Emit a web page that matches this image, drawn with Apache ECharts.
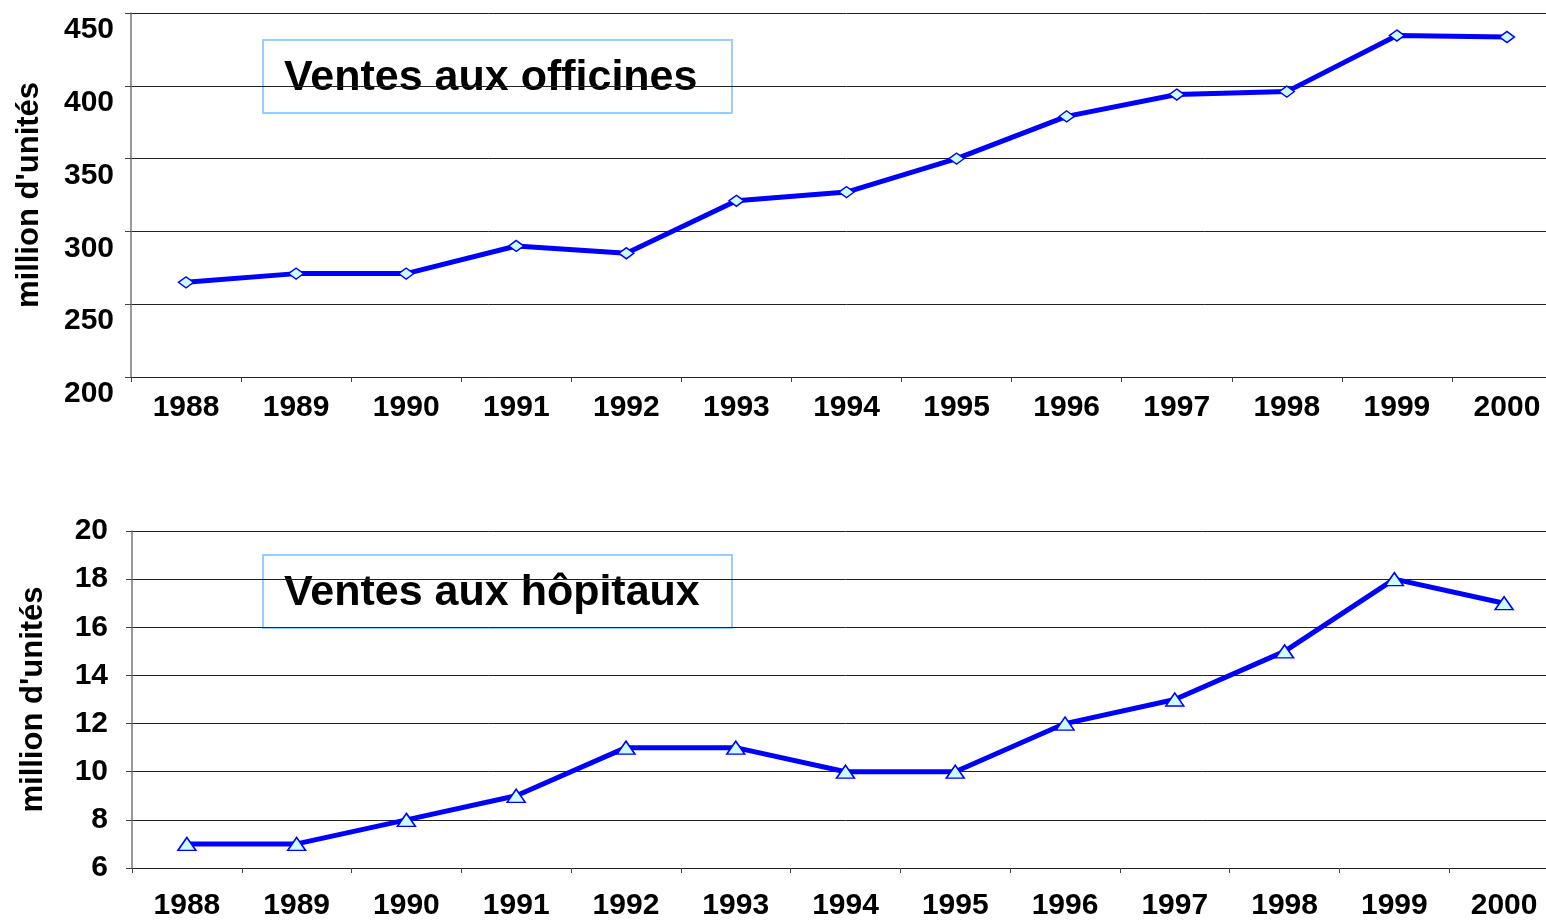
<!DOCTYPE html>
<html>
<head>
<meta charset="utf-8">
<script src="https://cdn.jsdelivr.net/npm/echarts@6/dist/echarts.min.js"></script>
<style>
  html, body { margin: 0; padding: 0; background: #fff; overflow: hidden; }
  #chart { width: 1562px; height: 922px; }
</style>
</head>
<body>
<div id="chart"></div>
<script>
var years = ['1988', '1989', '1990', '1991', '1992', '1993', '1994', '1995', '1996', '1997', '1998', '1999', '2000'];
// ventes aux officines (million d'unités)
var officines = [265, 271, 271, 290, 285, 321, 327, 350, 379, 394, 396, 434.5, 433.5];
// ventes aux hôpitaux (million d'unités)
var hopitaux = [7, 7, 8, 9, 11, 11, 10, 10, 12, 13, 15, 18, 17];
var titles = ['Ventes aux officines', 'Ventes aux hôpitaux'];
var axisName = "million d'unités";

var font = '"Liberation Sans", Arial, sans-serif';
var chart = echarts.init(document.getElementById('chart'));

// the plot runs a little past the right edge of the window, like the original
var xAxisFor = function(idx, margin) {
    return {
        type: 'category',
        gridIndex: idx,
        data: years,
        boundaryGap: true,
        axisLine: { lineStyle: { color: '#222', width: 1 } },
        axisTick: { show: true, length: 5, interval: 0, lineStyle: { color: '#444' } },
        axisLabel: { interval: 0, margin: margin, color: '#000', fontFamily: font, fontWeight: 'bold', fontSize: 30 }
    };
};

var yAxisFor = function(idx, min, max, step, label, gap) {
    return {
        type: 'value',
        gridIndex: idx,
        min: min,
        max: max,
        interval: step,
        name: axisName,
        nameLocation: 'middle',
        nameRotate: 90,
        nameGap: gap,
        nameTextStyle: { color: '#000', fontFamily: font, fontWeight: 'bold', fontSize: 31 },
        axisLine: { show: true, lineStyle: { color: '#777', width: 1.5 } },
        axisTick: { show: true, length: 6, lineStyle: { color: '#444' } },
        splitLine: { lineStyle: { color: '#222', width: 1 } },
        axisLabel: label
    };
};

var seriesFor = function(idx, data, symbol, size) {
    return {
        type: 'line',
        xAxisIndex: idx,
        yAxisIndex: idx,
        data: data,
        symbol: symbol,
        symbolSize: size,
        showAllSymbol: true,
        lineStyle: { color: '#0000ff', width: 5 },
        itemStyle: { color: '#ccffff', borderColor: '#0000ff', borderWidth: 1.5 },
        z: 3
    };
};

var titleBox = function(top, text) {
    return {
        type: 'group',
        left: 262,
        top: top,
        z: 10,
        children: [{
            type: 'rect',
            shape: { x: 0, y: 0, width: 469, height: 73 },
            style: { fill: '#fff', stroke: '#99ccff', lineWidth: 2 }
        }, {
            type: 'text',
            x: 21,
            y: 38,
            style: { text: text, fill: '#000', font: 'bold 43px ' + font, verticalAlign: 'middle' }
        }]
    };
};

chart.setOption({
    backgroundColor: '#fff',
    animation: false,
    grid: [
        { left: 131, right: 0, top: 13, height: 364 },
        { left: 132, right: 3, top: 531, height: 337 }
    ],
    xAxis: [xAxisFor(0, 16), xAxisFor(1, 23)],
    yAxis: [
        yAxisFor(0, 200, 450, 50, {
            color: '#000', fontFamily: font, fontWeight: 'bold', fontSize: 30,
            margin: 17, verticalAlign: 'top', padding: [2, 0, 0, 0]
        }, 86),
        yAxisFor(1, 6, 20, 2, {
            color: '#000', fontFamily: font, fontWeight: 'bold', fontSize: 30,
            margin: 24, verticalAlign: 'middle', padding: [0, 0, 8, 0]
        }, 83)
    ],
    series: [
        seriesFor(0, officines, 'diamond', [15, 11]),
        seriesFor(1, hopitaux, 'triangle', [18, 13])
    ],
    graphic: [titleBox(39, titles[0]), titleBox(554, titles[1])]
});
</script>
</body>
</html>
